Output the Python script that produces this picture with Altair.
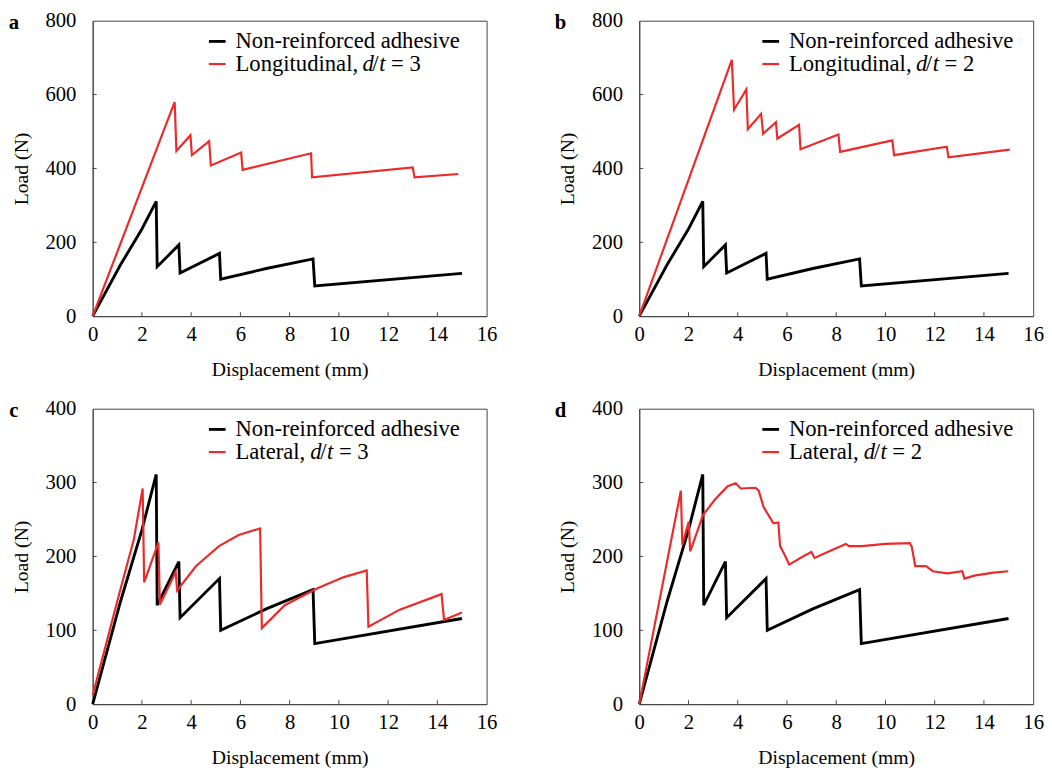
import altair as alt
import pandas as pd

FONT = "Liberation Serif"
RED = "#ec2a2a"
AXC = "#444444"

# Non-reinforced adhesive (same curve in all panels)
BLACK_X = [0, 1.13, 2.0, 2.58, 2.62, 3.50, 3.55, 5.15, 5.20, 7.05, 8.95, 9.02, 15.0]
BLACK_Y = [0, 139, 236, 311, 134, 193, 117, 170, 100, 129, 155, 82, 116]

# a: Longitudinal, d/t = 3
RA_X = [0, 3.33, 3.40, 3.97, 4.03, 4.73, 4.80, 6.03, 6.09, 8.87, 8.91, 13.0, 13.07, 14.85]
RA_Y = [0, 580, 447, 490, 436, 474, 408, 443, 396, 441, 376, 403, 376, 385]

# b: Longitudinal, d/t = 2
RB_X = [0, 3.76, 3.85, 4.35, 4.41, 4.95, 5.03, 5.55, 5.61, 6.49, 6.55, 8.09, 8.16,
        10.28, 10.35, 12.49, 12.56, 15.05]
RB_Y = [0, 694, 559, 614, 506, 548, 494, 525, 481, 518, 452, 492, 445,
        476, 436, 459, 430, 451]

# c: Lateral, d/t = 3
RC_X = [0, 1.13, 1.67, 2.03, 2.09, 2.67, 2.73, 3.37, 3.43, 4.2, 5.13, 5.93, 6.8, 6.87,
        7.8, 9.13, 10.2, 11.13, 11.2, 12.47, 14.17, 14.27, 15.0]
RC_Y = [12, 156, 223, 292, 165, 219, 135, 179, 154, 187, 214, 229, 238, 103,
        134, 157, 172, 181, 105, 128, 149, 114, 124]

# d: Lateral, d/t = 2
RD_X = [0, 1.69, 1.75, 2.01, 2.07, 2.59, 3.05, 3.59, 3.92, 4.12, 4.72, 4.85, 5.05, 5.45,
        5.65, 5.72, 5.88, 6.09, 6.65, 6.99, 7.12, 7.72, 8.39, 8.52, 9.05, 9.99, 10.99,
        11.07, 11.21, 11.65, 11.92, 12.52, 13.12, 13.21, 13.61, 14.39, 14.99]
RD_Y = [0, 289, 216, 247, 207, 256, 276, 295, 299, 292, 293, 289, 267, 245,
        246, 214, 204, 189, 200, 206, 198, 207, 217, 214, 214, 217, 218,
        213, 187, 187, 180, 177, 180, 170, 174, 178, 180]

X_TICKS = [0, 2, 4, 6, 8, 10, 12, 14, 16]
X_INNER = [2, 4, 6, 8, 10, 12, 14]
Y_TICKS_TOP = [0, 200, 400, 600, 800]
Y_INNER_TOP = [200, 400, 600]
Y_TICKS_BOT = [0, 100, 200, 300, 400]
Y_INNER_BOT = [100, 200, 300]

LEGEND_BLACK = "Non-reinforced adhesive"

W, H = 400, 300


def panel(rx, ry, ymax, yticks, yinner, prefix, prefix_w, suffix, letter, lx):
    xaxis = alt.Axis(values=X_TICKS, title="Displacement (mm)", tickSize=0, labelPadding=8,
                     titlePadding=15, grid=False, domainColor=AXC, labelFontSize=21,
                     titleFontSize=20, titleFontWeight="normal", labelFont=FONT,
                     titleFont=FONT, labelColor="black", titleColor="black",
                     labelFlush=False)
    yaxis = alt.Axis(values=yticks, title="Load (N)", tickSize=0, labelPadding=17,
                     titlePadding=14, grid=False, domainColor=AXC, labelFontSize=21,
                     titleFontSize=20, titleFontWeight="normal", labelFont=FONT,
                     titleFont=FONT, labelColor="black", titleColor="black",
                     labelFlush=False)
    xs = alt.Scale(domain=[0, 16], nice=False, zero=False)
    ys = alt.Scale(domain=[0, ymax], nice=False)
    X = alt.X("x:Q", scale=xs, axis=xaxis)
    Y = alt.Y("y:Q", scale=ys, axis=yaxis)

    black = alt.Chart(pd.DataFrame({"x": BLACK_X, "y": BLACK_Y})).mark_line(
        color="black", strokeWidth=2.9).encode(x=X, y=Y, order="idx:Q") \
        .transform_window(idx="row_number()")
    red = alt.Chart(pd.DataFrame({"x": rx, "y": ry})).mark_line(
        color=RED, strokeWidth=2.2).encode(x=X, y=Y, order="idx:Q") \
        .transform_window(idx="row_number()")

    xt = alt.Chart(pd.DataFrame({"x": X_INNER})).mark_rule(color=AXC, strokeWidth=1).encode(
        x=X, y=alt.value(H), y2=alt.value(H - 4))
    yt = alt.Chart(pd.DataFrame({"y": yinner})).mark_rule(color=AXC, strokeWidth=1).encode(
        y=Y, x=alt.value(0), x2=alt.value(4))

    one = pd.DataFrame({"k": [0]})
    r1, r2 = 21, 44
    tx = lx + 27
    leg = []
    leg.append(alt.Chart(one).mark_rule(color="black", strokeWidth=2.9).encode(
        x=alt.value(lx), x2=alt.value(lx + 17), y=alt.value(r1)))
    leg.append(alt.Chart(one).mark_rule(color=RED, strokeWidth=2.2).encode(
        x=alt.value(lx), x2=alt.value(lx + 17), y=alt.value(r2)))
    tkw = dict(font=FONT, fontSize=23, align="left", baseline="middle", color="black")
    leg.append(alt.Chart(one).mark_text(text=LEGEND_BLACK, **tkw).encode(
        x=alt.value(tx), y=alt.value(r1)))
    leg.append(alt.Chart(one).mark_text(text=prefix, **tkw).encode(
        x=alt.value(tx), y=alt.value(r2)))
    leg.append(alt.Chart(one).mark_text(text="d", fontStyle="italic", **tkw).encode(
        x=alt.value(tx + prefix_w), y=alt.value(r2)))
    leg.append(alt.Chart(one).mark_text(text="/", **tkw).encode(
        x=alt.value(tx + prefix_w + 10), y=alt.value(r2)))
    leg.append(alt.Chart(one).mark_text(text="t", fontStyle="italic", **tkw).encode(
        x=alt.value(tx + prefix_w + 17), y=alt.value(r2)))
    leg.append(alt.Chart(one).mark_text(text=suffix, **tkw).encode(
        x=alt.value(tx + prefix_w + 29), y=alt.value(r2)))

    let = alt.Chart(one).mark_text(text=letter, font=FONT, fontSize=21, fontWeight="bold",
                                   align="center", baseline="middle", color="black").encode(
        x=alt.value(-80), y=alt.value(2))

    return alt.layer(black, red, xt, yt, *leg, let).properties(width=W, height=H)


pa = panel(RA_X, RA_Y, 800, Y_TICKS_TOP, Y_INNER_TOP, "Longitudinal,", 129, "= 3", "a", 118)
pb = panel(RB_X, RB_Y, 800, Y_TICKS_TOP, Y_INNER_TOP, "Longitudinal,", 129, "= 2", "b", 125)
pc = panel(RC_X, RC_Y, 400, Y_TICKS_BOT, Y_INNER_BOT, "Lateral,", 76, "= 3", "c", 118)
pd_ = panel(RD_X, RD_Y, 400, Y_TICKS_BOT, Y_INNER_BOT, "Lateral,", 76, "= 2", "d", 125)

chart = alt.vconcat(
    alt.hconcat(pa, pb, spacing=57),
    alt.hconcat(pc, pd_, spacing=57),
    spacing=17,
).properties(padding={"left": 0, "top": -5, "right": 0, "bottom": 0}).configure_view(
    stroke=AXC, strokeWidth=1
)

chart.save("out.html", embed_options={"renderer": "svg", "actions": False})
